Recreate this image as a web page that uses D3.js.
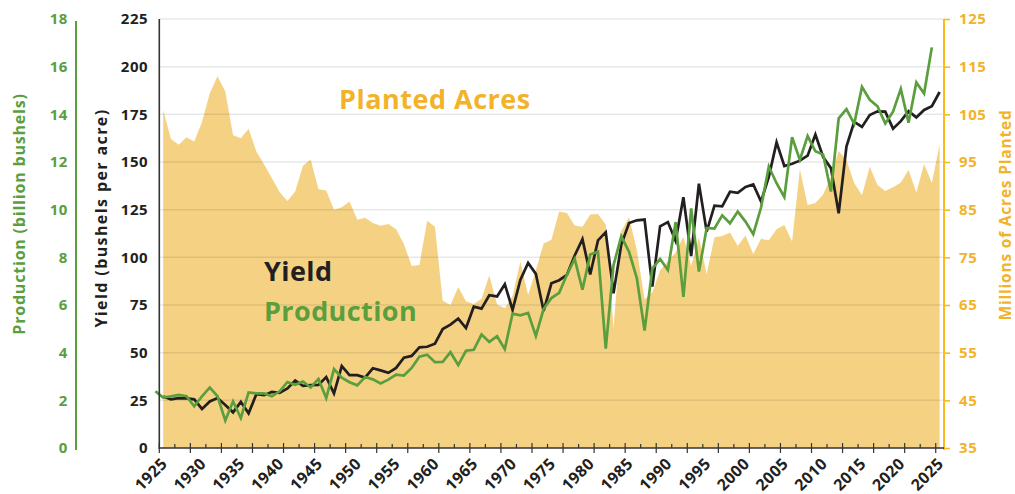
<!DOCTYPE html>
<html>
<head>
<meta charset="utf-8">
<script src="https://cdn.jsdelivr.net/npm/d3@7/dist/d3.min.js"></script>
<style>
body { margin: 0; background: #fff; }
svg { display: block; font-family: "Open Sans", sans-serif; font-weight: 700; }
</style>
</head>
<body>
<div id="chartDiv"></div>
<script>
"use strict";

// svg parameters
var svgWidth = 1015;
var svgHeight = 494;

// plot box
var plotLeft = 159.3, plotRight = 943.5, plotTop = 19, plotBottom = 448;

// colours
var areaColor = "#f5d283";
var yellow = "#f2b32a";
var yellowAxis = "#fbbb1c";
var green = "#5a9e3e";
var black = "#231f20";

// data, one entry per year
var years = d3.range(1925, 2026);

// yield (bushels per acre)
var yieldValues = [
    27.0, 25.5, 26.2, 26.0, 25.5, 20.5, 24.4, 26.2, 22.6, 18.7,
    24.2, 18.2, 28.2, 27.7, 29.4, 28.9, 31.2, 35.4, 32.6, 33.0,
    33.1, 37.2, 28.6, 43.0, 38.2, 38.2, 36.9, 41.8, 40.7, 39.4,
    42.0, 47.4, 48.3, 52.8, 53.1, 54.7, 62.4, 64.7, 67.9, 62.9,
    74.1, 73.1, 80.1, 79.5, 85.9, 72.4, 88.1, 97.0, 91.3, 71.9,
    86.4, 88.0, 90.8, 101.0, 109.5, 91.0, 108.9, 113.2, 81.1, 106.7,
    118.0, 119.4, 119.8, 84.6, 116.3, 118.5, 108.6, 131.5, 100.7, 138.6,
    113.5, 127.1, 126.7, 134.4, 133.8, 136.9, 138.2, 129.3, 142.2, 160.3,
    147.9, 149.1, 150.7, 153.3, 164.4, 152.6, 146.8, 123.1, 158.1, 171.0,
    168.4, 174.6, 176.6, 176.4, 167.5, 171.4, 176.7, 173.4, 177.3, 179.3,
    186.7
];

// production (billion bushels)
var productionValues = [
    2.38, 2.12, 2.17, 2.23, 2.17, 1.75, 2.17, 2.54, 2.17, 1.15,
    1.96, 1.26, 2.33, 2.29, 2.29, 2.17, 2.38, 2.77, 2.65, 2.79,
    2.54, 2.90, 2.10, 3.31, 2.95, 2.76, 2.63, 2.98, 2.88, 2.71,
    2.87, 3.08, 3.04, 3.36, 3.83, 3.91, 3.60, 3.61, 4.02, 3.48,
    4.08, 4.12, 4.76, 4.45, 4.69, 4.15, 5.64, 5.57, 5.67, 4.70,
    5.84, 6.29, 6.51, 7.27, 7.93, 6.64, 8.12, 8.24, 4.17, 7.67,
    8.88, 8.23, 7.13, 4.93, 7.53, 7.93, 7.47, 9.48, 6.34, 10.05,
    7.40, 9.23, 9.21, 9.76, 9.43, 9.92, 9.50, 8.97, 10.09, 11.81,
    11.11, 10.53, 13.04, 12.09, 13.09, 12.45, 12.31, 10.76, 13.83, 14.22,
    13.60, 15.15, 14.61, 14.34, 13.62, 14.11, 15.07, 13.65, 15.34, 14.87,
    16.81
];

// planted acres (millions)
var acresValues = [
    105.9, 99.8, 98.6, 100.2, 99.3, 103.4, 109.4, 113.0, 109.8, 100.6,
    100.0, 102.0, 97.2, 94.5, 91.6, 88.7, 86.8, 88.8, 94.2, 95.5,
    89.3, 89.0, 85.0, 85.5, 86.7, 82.9, 83.3, 82.2, 81.6, 82.0,
    80.9, 77.8, 73.2, 73.4, 82.7, 81.4, 65.9, 65.0, 68.8, 65.8,
    65.2, 66.3, 71.2, 65.1, 64.3, 66.9, 74.1, 67.1, 72.3, 77.9,
    78.7, 84.6, 84.3, 81.7, 81.4, 84.0, 84.1, 81.9, 60.2, 80.5,
    83.4, 76.6, 66.2, 67.7, 72.3, 74.2, 76.0, 79.3, 73.2, 79.2,
    71.5, 79.2, 79.5, 80.2, 77.4, 79.6, 75.7, 78.9, 78.6, 80.9,
    81.8, 78.3, 93.5, 86.0, 86.4, 88.2, 91.9, 97.3, 95.4, 90.6,
    88.0, 94.0, 90.2, 88.9, 89.7, 90.7, 93.3, 88.6, 94.6, 90.6,
    98.7
];

// tick labels
var yieldTicks = [0, 25, 50, 75, 100, 125, 150, 175, 200, 225];
var productionTicks = [0, 2, 4, 6, 8, 10, 12, 14, 16, 18];
var acresTicks = [35, 45, 55, 65, 75, 85, 95, 105, 115, 125];
var yearLabels = [1925, 1930, 1935, 1940, 1945, 1950, 1955, 1960, 1965, 1970,
    1975, 1980, 1985, 1990, 1995, 2000, 2005, 2010, 2015, 2020, 2025];

var rows = years.map(function (yr, i) {
    return {year: yr, yield: yieldValues[i], production: productionValues[i], acres: acresValues[i]};
});

// scales - each year is a band, points sit in the middle of it
var x = d3.scaleLinear().domain([1925, 2026]).range([plotLeft, plotRight]);
var yYield = d3.scaleLinear().domain([0, 225]).range([plotBottom, plotTop]);
var yProd = d3.scaleLinear().domain([0, 18]).range([plotBottom, plotTop]);
var yAcres = d3.scaleLinear().domain([35, 125]).range([plotBottom, plotTop]);

var svg = d3.select("#chartDiv").append("svg").attr("width", svgWidth).attr("height", svgHeight);

// planted acres area
var acresArea = d3.area()
    .x(function (d) { return x(d.year + 0.5); })
    .y0(plotBottom)
    .y1(function (d) { return yAcres(d.acres); });

svg.append("path").datum(rows)
    .attr("d", acresArea)
    .attr("fill", areaColor);

// horizontal gridlines, drawn over the area
svg.append("g").attr("class", "grid").selectAll("line").data(yieldTicks.slice(1))
    .enter().append("line")
    .attr("x1", plotLeft).attr("x2", plotRight)
    .attr("y1", function (d) { return yYield(d); })
    .attr("y2", function (d) { return yYield(d); })
    .attr("stroke", "#000").attr("stroke-opacity", 0.09).attr("stroke-width", 1.5);

// yield line
var yieldLine = d3.line()
    .x(function (d) { return x(d.year + 0.5); })
    .y(function (d) { return yYield(d.yield); });

// the original plots production one year to the left of yield
var prodLine = d3.line()
    .x(function (d) { return x(d.year - 0.5); })
    .y(function (d) { return yProd(d.production); });

svg.append("path").datum(rows)
    .attr("d", yieldLine)
    .attr("fill", "none").attr("stroke", black).attr("stroke-width", 2.7);

svg.append("path").datum(rows)
    .attr("d", prodLine)
    .attr("fill", "none").attr("stroke", green).attr("stroke-width", 2.7);

// left yield axis
var yieldAxis = svg.append("g").attr("transform", "translate(" + plotLeft + ",0)")
    .call(d3.axisLeft(yYield).tickValues(yieldTicks).tickSize(0).tickPadding(11));
yieldAxis.select(".domain").remove();
yieldAxis.selectAll("text").attr("font-size", 15).attr("fill", black)
    .attr("font-family", "Open Sans").attr("font-weight", 700).attr("letter-spacing", 0.6);

svg.append("line")
    .attr("x1", plotLeft).attr("x2", plotLeft)
    .attr("y1", plotTop).attr("y2", plotBottom + 1)
    .attr("stroke", "#333").attr("stroke-width", 1.6);

// production axis, further left
var prodAxisX = 76;
var prodAxis = svg.append("g").attr("transform", "translate(" + prodAxisX + ",0)")
    .call(d3.axisLeft(yProd).tickValues(productionTicks).tickSize(0).tickPadding(8));
prodAxis.select(".domain").remove();
prodAxis.selectAll("text").attr("font-size", 15).attr("fill", green)
    .attr("font-family", "Open Sans").attr("font-weight", 700).attr("letter-spacing", 0.6);

svg.append("line")
    .attr("x1", prodAxisX).attr("x2", prodAxisX)
    .attr("y1", plotTop + 2).attr("y2", plotBottom + 2)
    .attr("stroke", green).attr("stroke-width", 2);

// right acres axis
var acresAxisX = 944;
var acresAxis = svg.append("g").attr("transform", "translate(" + acresAxisX + ",0)")
    .call(d3.axisRight(yAcres).tickValues(acresTicks).tickSize(6).tickPadding(9));
acresAxis.select(".domain").remove();
acresAxis.selectAll("line").attr("stroke", yellowAxis).attr("stroke-width", 1.6);
acresAxis.selectAll("text").attr("font-size", 15).attr("fill", yellow)
    .attr("font-family", "Open Sans").attr("font-weight", 700).attr("letter-spacing", 0.6);

svg.append("line")
    .attr("x1", acresAxisX).attr("x2", acresAxisX)
    .attr("y1", plotTop).attr("y2", plotBottom + 2)
    .attr("stroke", yellowAxis).attr("stroke-width", 2);

// bottom axis: a tick every two years, every other one longer
var tickYears = d3.range(1925, 2026, 2);
svg.append("line")
    .attr("x1", plotLeft).attr("x2", acresAxisX)
    .attr("y1", plotBottom).attr("y2", plotBottom)
    .attr("stroke", "#333").attr("stroke-width", 1.4);

svg.append("g").attr("class", "xticks").selectAll("line").data(tickYears)
    .enter().append("line")
    .attr("x1", function (d) { return x(d); })
    .attr("x2", function (d) { return x(d); })
    .attr("y1", function (d, i) { return i % 2 == 0 ? plotBottom - 5 : plotBottom - 4; })
    .attr("y2", function (d, i) { return i % 2 == 0 ? plotBottom + 5 : plotBottom; })
    .attr("stroke", "#333").attr("stroke-width", 1.2);

svg.append("g").attr("class", "xlabels").selectAll("text").data(yearLabels)
    .enter().append("text")
    .attr("transform", function (d) { return "translate(" + (x(d + 0.5) - 3) + "," + (plotBottom + 9) + ") rotate(-45)"; })
    .attr("text-anchor", "end")
    .attr("dy", "0.7em")
    .attr("font-size", 16)
    .attr("letter-spacing", 0.3)
    .attr("fill", black)
    .text(function (d) { return d; });

// axis titles
svg.append("text")
    .attr("transform", "translate(25,214) rotate(-90)")
    .attr("text-anchor", "middle")
    .attr("font-size", 16).attr("letter-spacing", 0.8).attr("fill", green)
    .text("Production (billion bushels)");

svg.append("text")
    .attr("transform", "translate(107,218) rotate(-90)")
    .attr("text-anchor", "middle")
    .attr("font-size", 16).attr("letter-spacing", 1.4).attr("fill", black)
    .text("Yield (bushels per acre)");

svg.append("text")
    .attr("transform", "translate(1011,215) rotate(-90)")
    .attr("text-anchor", "middle")
    .attr("font-size", 15.5).attr("letter-spacing", 0.8).attr("fill", yellow)
    .text("Millions of Acres Planted");

// series labels inside the plot
svg.append("text").attr("x", 339).attr("y", 109)
    .attr("font-size", 27).attr("letter-spacing", 0.5).attr("fill", yellow)
    .text("Planted Acres");

svg.append("text").attr("x", 264).attr("y", 281)
    .attr("font-size", 27).attr("letter-spacing", 0.4).attr("fill", black)
    .text("Yield");

svg.append("text").attr("x", 264).attr("y", 321)
    .attr("font-size", 27).attr("letter-spacing", 0.4).attr("fill", green)
    .text("Production");
</script>
</body>
</html>
